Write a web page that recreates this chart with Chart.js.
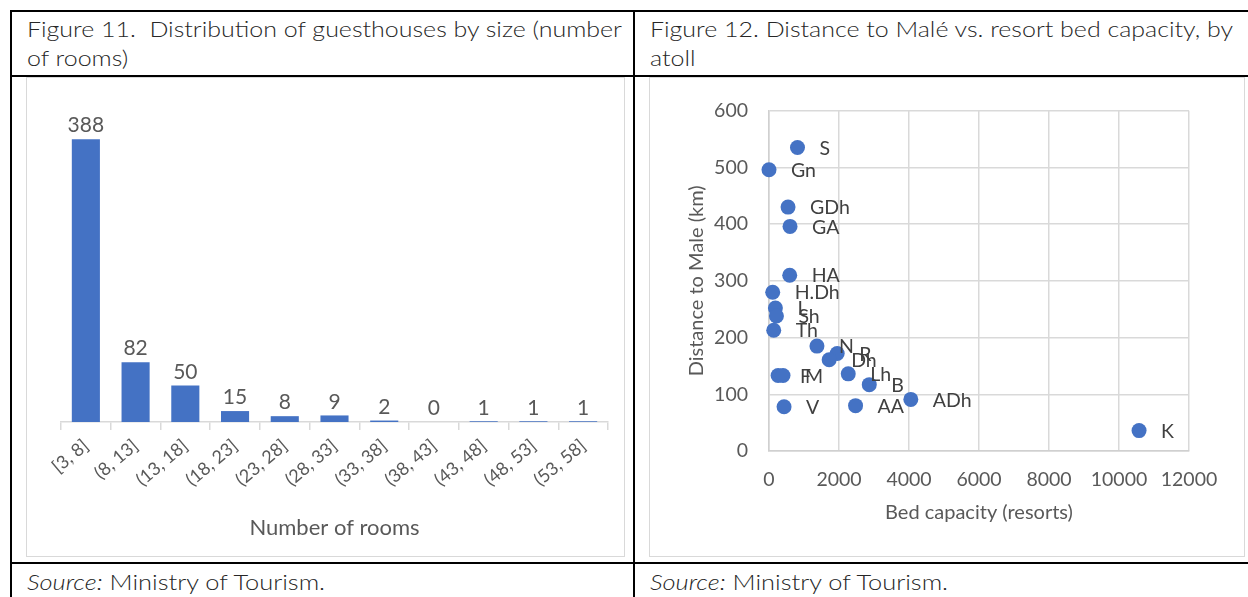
<!DOCTYPE html>
<html lang="en">
<head>
  <meta charset="UTF-8" />
  <title>Guesthouses and resorts</title>
  <script src="https://cdn.jsdelivr.net/npm/chart.js"></script>
  <style>
    body {
      margin: 0;
      background: #ffffff;
      width: 1248px;
      height: 597px;
      overflow: hidden;
      position: relative;
      font-family: 'Lato', sans-serif;
      color: #262626;
    }
    .line { position: absolute; background: #000; }
    .cell-text {
      position: absolute;
      font-size: 21px;
      font-weight: 300;
      line-height: 29px;
      white-space: pre;
      transform: scaleX(1.19);
      transform-origin: left top;
    }
    .box {
      position: absolute;
      border: 1px solid #d9d9d9;
    }
    .box canvas { display: block; }
  </style>
</head>
<body>
  <!-- table rules -->
  <div class="line" style="left:10px; top:10px; width:1238px; height:2px;"></div>
  <div class="line" style="left:10px; top:10px; width:2px; height:587px;"></div>
  <div class="line" style="left:633px; top:10px; width:2px; height:587px;"></div>
  <div class="line" style="left:10px; top:75px; width:1238px; height:2px;"></div>
  <div class="line" style="left:10px; top:562px; width:1238px; height:2px;"></div>

  <div class="cell-text" style="left:27px; top:14px;">Figure 11.  Distribution of guesthouses by size (number
of rooms)</div>
  <div class="cell-text" style="left:650px; top:14px;">Figure 12. Distance to Malé vs. resort bed capacity, by
atoll</div>

  <div class="cell-text" style="left:27px; top:567px; transform: scaleX(1.21);"><i>Source:</i> Ministry of Tourism.</div>
  <div class="cell-text" style="left:650px; top:567px; transform: scaleX(1.21);"><i>Source:</i> Ministry of Tourism.</div>

  <div class="box" style="left:26px; top:77px; width:597px; height:478px;">
    <canvas id="sizeChart"></canvas>
  </div>
  <div class="box" style="left:649px; top:77px; width:594px; height:478px;">
    <canvas id="distChart"></canvas>
  </div>

  <script>
    // Figure 11 data
    const roomBins = ['[3, 8]', '(8, 13]', '(13, 18]', '(18, 23]', '(23, 28]', '(28, 33]',
                      '(33, 38]', '(38, 43]', '(43, 48]', '(48, 53]', '(53, 58]'];
    const guesthouseCounts = [388, 82, 50, 15, 8, 9, 2, 0, 1, 1, 1];

    // Figure 12 data
    const atolls = ['S', 'Gn', 'GDh', 'GA', 'HA', 'H.Dh', 'L', 'Sh', 'Th', 'N',
                    'R', 'Dh', 'F', 'M', 'Lh', 'B', 'ADh', 'V', 'AA', 'K'];
    const bedCapacity = [814, 0, 544, 601, 592, 106, 183, 212, 135, 1370,
                         1948, 1719, 260, 400, 2264, 2865, 4052, 430, 2473, 10573];
    const distanceKm = [535, 496, 430, 396, 310, 280, 252, 238, 213, 185,
                        172, 161, 133, 133, 136, 117, 91, 78, 80, 36];

    Chart.defaults.font.family = 'Lato';
    Chart.defaults.color = '#595959';
    Chart.defaults.animation = false;

    const barLabels = {
      id: 'barLabels',
      afterDatasetsDraw(chart) {
        const ctx = chart.ctx;
        const meta = chart.getDatasetMeta(0);
        ctx.save();
        ctx.font = '21px Lato';
        ctx.fillStyle = '#595959';
        ctx.textAlign = 'center';
        ctx.textBaseline = 'bottom';
        meta.data.forEach((bar, i) => {
          ctx.fillText(String(guesthouseCounts[i]), bar.x, bar.y - 3);
        });
        ctx.restore();
      }
    };

    const pointLabels = {
      id: 'pointLabels',
      afterDatasetsDraw(chart) {
        const ctx = chart.ctx;
        const meta = chart.getDatasetMeta(0);
        ctx.save();
        ctx.font = '19.5px Lato';
        ctx.fillStyle = '#404040';
        ctx.textAlign = 'left';
        ctx.textBaseline = 'middle';
        meta.data.forEach((pt, i) => {
          ctx.fillText(atolls[i], pt.x + 22, pt.y + 1);
        });
        ctx.restore();
      }
    };

    new Chart(document.getElementById('sizeChart'), {
      type: 'bar',
      data: {
        labels: roomBins,
        datasets: [{
          data: guesthouseCounts,
          backgroundColor: '#4472c4',
          barPercentage: 0.565,
          categoryPercentage: 1
        }]
      },
      options: {
        responsive: true,
        maintainAspectRatio: false,
        layout: { padding: { left: 34, right: 16, top: 16, bottom: 15 } },
        plugins: { legend: { display: false }, tooltip: { enabled: false } },
        scales: {
          x: {
            grid: { drawOnChartArea: false, drawTicks: true, tickLength: 8, color: '#d9d9d9', lineWidth: 1.5 },
            border: { color: '#d9d9d9', width: 1.5 },
            ticks: { font: { size: 18 }, color: '#595959', minRotation: 40, maxRotation: 40, autoSkip: false, padding: 5 },
            title: { display: true, text: 'Number of rooms', font: { size: 22 }, color: '#595959', padding: 0 },
            afterFit(scale) { scale.height = 119; }
          },
          y: {
            display: false,
            min: 0,
            max: 450
          }
        }
      },
      plugins: [barLabels]
    });

    new Chart(document.getElementById('distChart'), {
      type: 'scatter',
      data: {
        datasets: [{
          data: bedCapacity.map((x, i) => ({ x: x, y: distanceKm[i] })),
          backgroundColor: '#4472c4',
          borderColor: '#4472c4',
          borderWidth: 0,
          pointRadius: 7.5,
          clip: false
        }]
      },
      options: {
        responsive: true,
        maintainAspectRatio: false,
        layout: { padding: { left: 35, right: 55, top: 28, bottom: 31 } },
        plugins: { legend: { display: false }, tooltip: { enabled: false } },
        scales: {
          x: {
            min: 0, max: 12000,
            grid: { color: '#d9d9d9', lineWidth: 1.5, drawTicks: false },
            border: { color: '#d0d0d0', width: 1.5 },
            ticks: { stepSize: 2000, font: { size: 19.5 }, color: '#595959', padding: 17,
                     callback: v => String(v) },
            title: { display: true, text: 'Bed capacity (resorts)', font: { size: 20 }, color: '#595959', padding: 0 },
            afterFit(scale) { scale.height = 74; }
          },
          y: {
            min: 0, max: 600,
            grid: { color: '#d9d9d9', lineWidth: 1.5, drawTicks: false },
            border: { color: '#d0d0d0', width: 1.5 },
            ticks: { stepSize: 100, font: { size: 19.5 }, color: '#595959', padding: 21 },
            title: { display: true, text: 'Distance to Male (km)', font: { size: 20 }, color: '#595959', padding: 0 },
            afterFit(scale) { scale.width = 84; }
          }
        }
      },
      plugins: [pointLabels]
    });
  </script>
</body>
</html>
